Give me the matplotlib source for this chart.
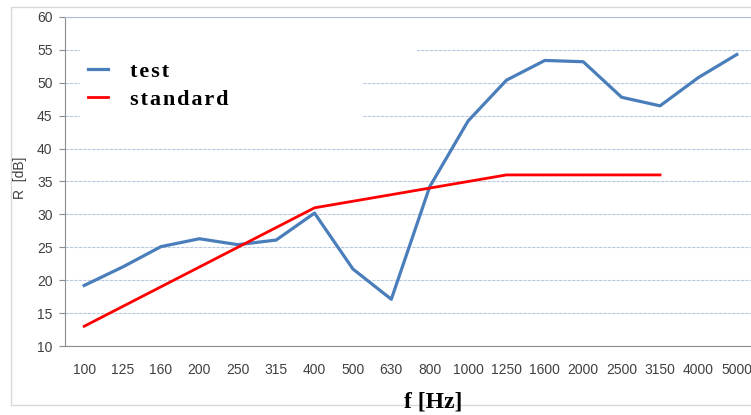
import numpy as np
import matplotlib.pyplot as plt
from matplotlib.patches import Rectangle

# third-octave bands
freqs = ['100', '125', '160', '200', '250', '315', '400', '500', '630',
         '800', '1000', '1250', '1600', '2000', '2500', '3150', '4000', '5000']
test = [19.2, 22.0, 25.1, 26.3, 25.4, 26.1, 30.2, 21.7, 17.1,
        34.2, 44.2, 50.4, 53.4, 53.2, 47.8, 46.5, 50.8, 54.3]
standard = [13, 16, 19, 22, 25, 28, 31, 32, 33, 34, 35, 36, 36, 36, 36, 36]

W, H = 751, 415
fig = plt.figure(figsize=(W / 100, H / 100), dpi=100)


def spaced(s):
    # the legend text of the original is letter-spaced
    return '\u200a'.join(s)


# light outer frame of the chart
fig.patches.append(Rectangle((11 / W, 1 - 405 / H), 1, 398 / H, transform=fig.transFigure,
                             fill=False, edgecolor='#d9d9d9', linewidth=1))

ax = fig.add_axes([65 / W, 1 - 346 / H, 691 / W, 329 / H])
x = np.arange(len(freqs))

ax.plot(x, test, color='#4a7ebb', linewidth=2.3, label=spaced('test'), zorder=3)
ax.plot(x[:len(standard)], standard, color='#ff0000', linewidth=2.0, label=spaced('standard'), zorder=3)

ax.set_xlim(-0.5, len(freqs) - 0.5)
ax.set_ylim(10, 60)
ax.set_yticks(np.arange(10, 61, 5))
ax.set_xticks(x)
ax.set_xticklabels(freqs)

ax.set_axisbelow(True)
ax.yaxis.grid(True, color='#b9c9e0', linestyle=(0, (3, 1)), linewidth=0.8)

ax.spines['right'].set_visible(False)
ax.spines['top'].set_color('#a9bdd9')
ax.spines['left'].set_color('#8c8c8c')
ax.spines['bottom'].set_color('#8c8c8c')

ax.tick_params(axis='y', length=4, color='#8c8c8c', pad=5, labelsize=10, labelcolor='#404040')
ax.tick_params(axis='x', length=0, pad=12, labelsize=10, labelcolor='#404040')
for lab in ax.get_xticklabels() + ax.get_yticklabels():
    lab.set_family('Liberation Sans')

# white area behind the legend hides parts of the gridlines
ax.add_patch(Rectangle((80 / W, 1 - 122 / H), 283 / W, 80 / H, transform=fig.transFigure,
                       facecolor='white', edgecolor='none', zorder=1))
ax.add_patch(Rectangle((80 / W, 1 - 56 / H), 337 / W, 12 / H, transform=fig.transFigure,
                       facecolor='white', edgecolor='none', zorder=1))

ax.legend(loc='upper left', bbox_to_anchor=(77 / W, 1 - 50 / H), bbox_transform=fig.transFigure,
          frameon=False, borderpad=0, handlelength=0.9, handletextpad=1.0, labelspacing=0.35,
          prop={'family': ['Liberation Serif', 'DejaVu Serif'], 'weight': 'bold', 'size': 16})

fig.text(20 / W, 1 - 178 / H, 'R  [dB]', rotation=90, ha='center', va='center',
         family='Liberation Sans', fontsize=10, color='#404040')
fig.text(433 / W, 1 - 402 / H, 'f [Hz]', ha='center', va='center',
         family='Liberation Serif', weight='bold', fontsize=17)

fig.savefig('out.png', dpi=100)
